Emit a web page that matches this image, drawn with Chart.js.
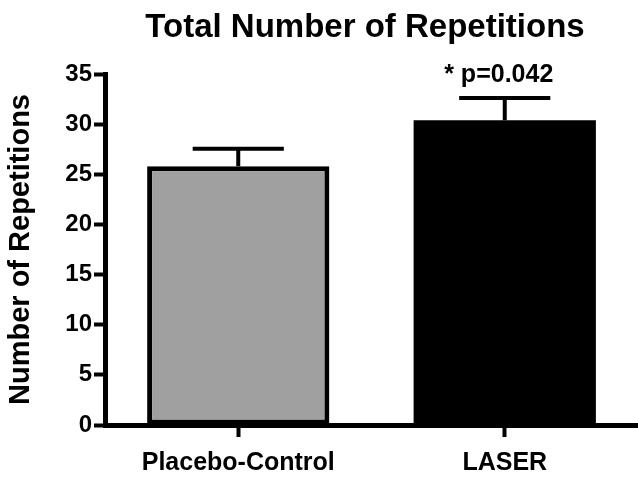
<!DOCTYPE html>
<html><head><meta charset="utf-8">
<script src="https://cdn.jsdelivr.net/npm/chart.js@4/dist/chart.umd.min.js"></script>
<style>html,body{margin:0;padding:0;background:#fff}#wrap{width:638px;height:477px;position:relative}</style>
</head><body><div id="wrap"><canvas id="c"></canvas></div>
<script>
const categories = ['Placebo-Control', 'LASER'];
const meanValues = [25.8, 30.4];
const errorValues = [1.75, 2.2];
const barColors = ['#a0a0a0', '#000000'];
const yTickValues = [0, 5, 10, 15, 20, 25, 30, 35];
const annotations = ['', '* p=0.042'];
const chartTitle = 'Total Number of Repetitions';
const yTitle = 'Number of Repetitions';

const FAM = "'Liberation Sans', Arial, Helvetica, sans-serif";

const errorBarPlugin = {
  id: 'errorBars',
  afterDatasetsDraw(chart) {
    const ctx = chart.ctx;
    const meta = chart.getDatasetMeta(0);
    const ys = chart.scales.y;
    ctx.save();
    ctx.strokeStyle = '#000';
    ctx.lineWidth = 4;
    ctx.lineCap = 'butt';
    meta.data.forEach((bar, i) => {
      const top = ys.getPixelForValue(meanValues[i] + errorValues[i]);
      const half = bar.width / 4;
      ctx.beginPath();
      ctx.moveTo(bar.x, bar.y);
      ctx.lineTo(bar.x, top);
      ctx.moveTo(bar.x - half, top);
      ctx.lineTo(bar.x + half, top);
      ctx.stroke();
      if (annotations[i]) {
        ctx.fillStyle = '#000';
        ctx.font = 'bold 25px ' + FAM;
        ctx.textAlign = 'center';
        ctx.textBaseline = 'alphabetic';
        ctx.fillText(annotations[i], bar.x - 6, top - 16);
      }
    });
    ctx.restore();
  },
  afterDraw(chart) {
    const ctx = chart.ctx;
    ctx.save();
    ctx.fillStyle = '#000';
    ctx.font = 'bold 33px ' + FAM;
    ctx.textAlign = 'center';
    ctx.textBaseline = 'alphabetic';
    ctx.fillText(chartTitle, 365, 37);
    ctx.restore();
  }
};

new Chart(document.getElementById('c'), {
  type: 'bar',
  data: {
    labels: categories,
    datasets: [{
      data: meanValues,
      backgroundColor: barColors,
      borderColor: '#000',
      borderWidth: [5, 0],
      borderSkipped: false,
      barPercentage: 0.684,
      categoryPercentage: 1.0
    }]
  },
  options: {
    responsive: true,
    maintainAspectRatio: false,
    animation: false,
    layout: { padding: { top: 74, left: 0, right: -3, bottom: 0 } },
    plugins: { legend: { display: false }, tooltip: { enabled: false }, title: { display: false } },
    scales: {
      x: {
        offset: true,
        grid: { display: true, drawOnChartArea: false, offset: false, tickLength: 12, tickWidth: 4, tickColor: '#000' },
        border: { display: true, color: '#000', width: 5 },
        ticks: { color: '#000', font: { family: FAM, size: 25, weight: 'bold' }, padding: 11, maxRotation: 0 },
        afterFit(s) { s.height = 52; }
      },
      y: {
        min: 0, max: 35,
        afterBuildTicks(s) { s.ticks = yTickValues.map(v => ({ value: v })); },
        grid: { display: true, drawOnChartArea: false, tickLength: 11, tickWidth: 4, tickColor: '#000' },
        border: { display: true, color: '#000', width: 5 },
        ticks: { color: '#000', font: { family: FAM, size: 24, weight: 'bold' }, padding: 2 },
        title: { display: true, text: yTitle, color: '#000', font: { family: FAM, size: 29, weight: 'bold' }, padding: { top: 4, bottom: 0 } },
        afterFit(s) { s.width = 105; }
      }
    }
  },
  plugins: [errorBarPlugin]
});
</script>
</body></html>
